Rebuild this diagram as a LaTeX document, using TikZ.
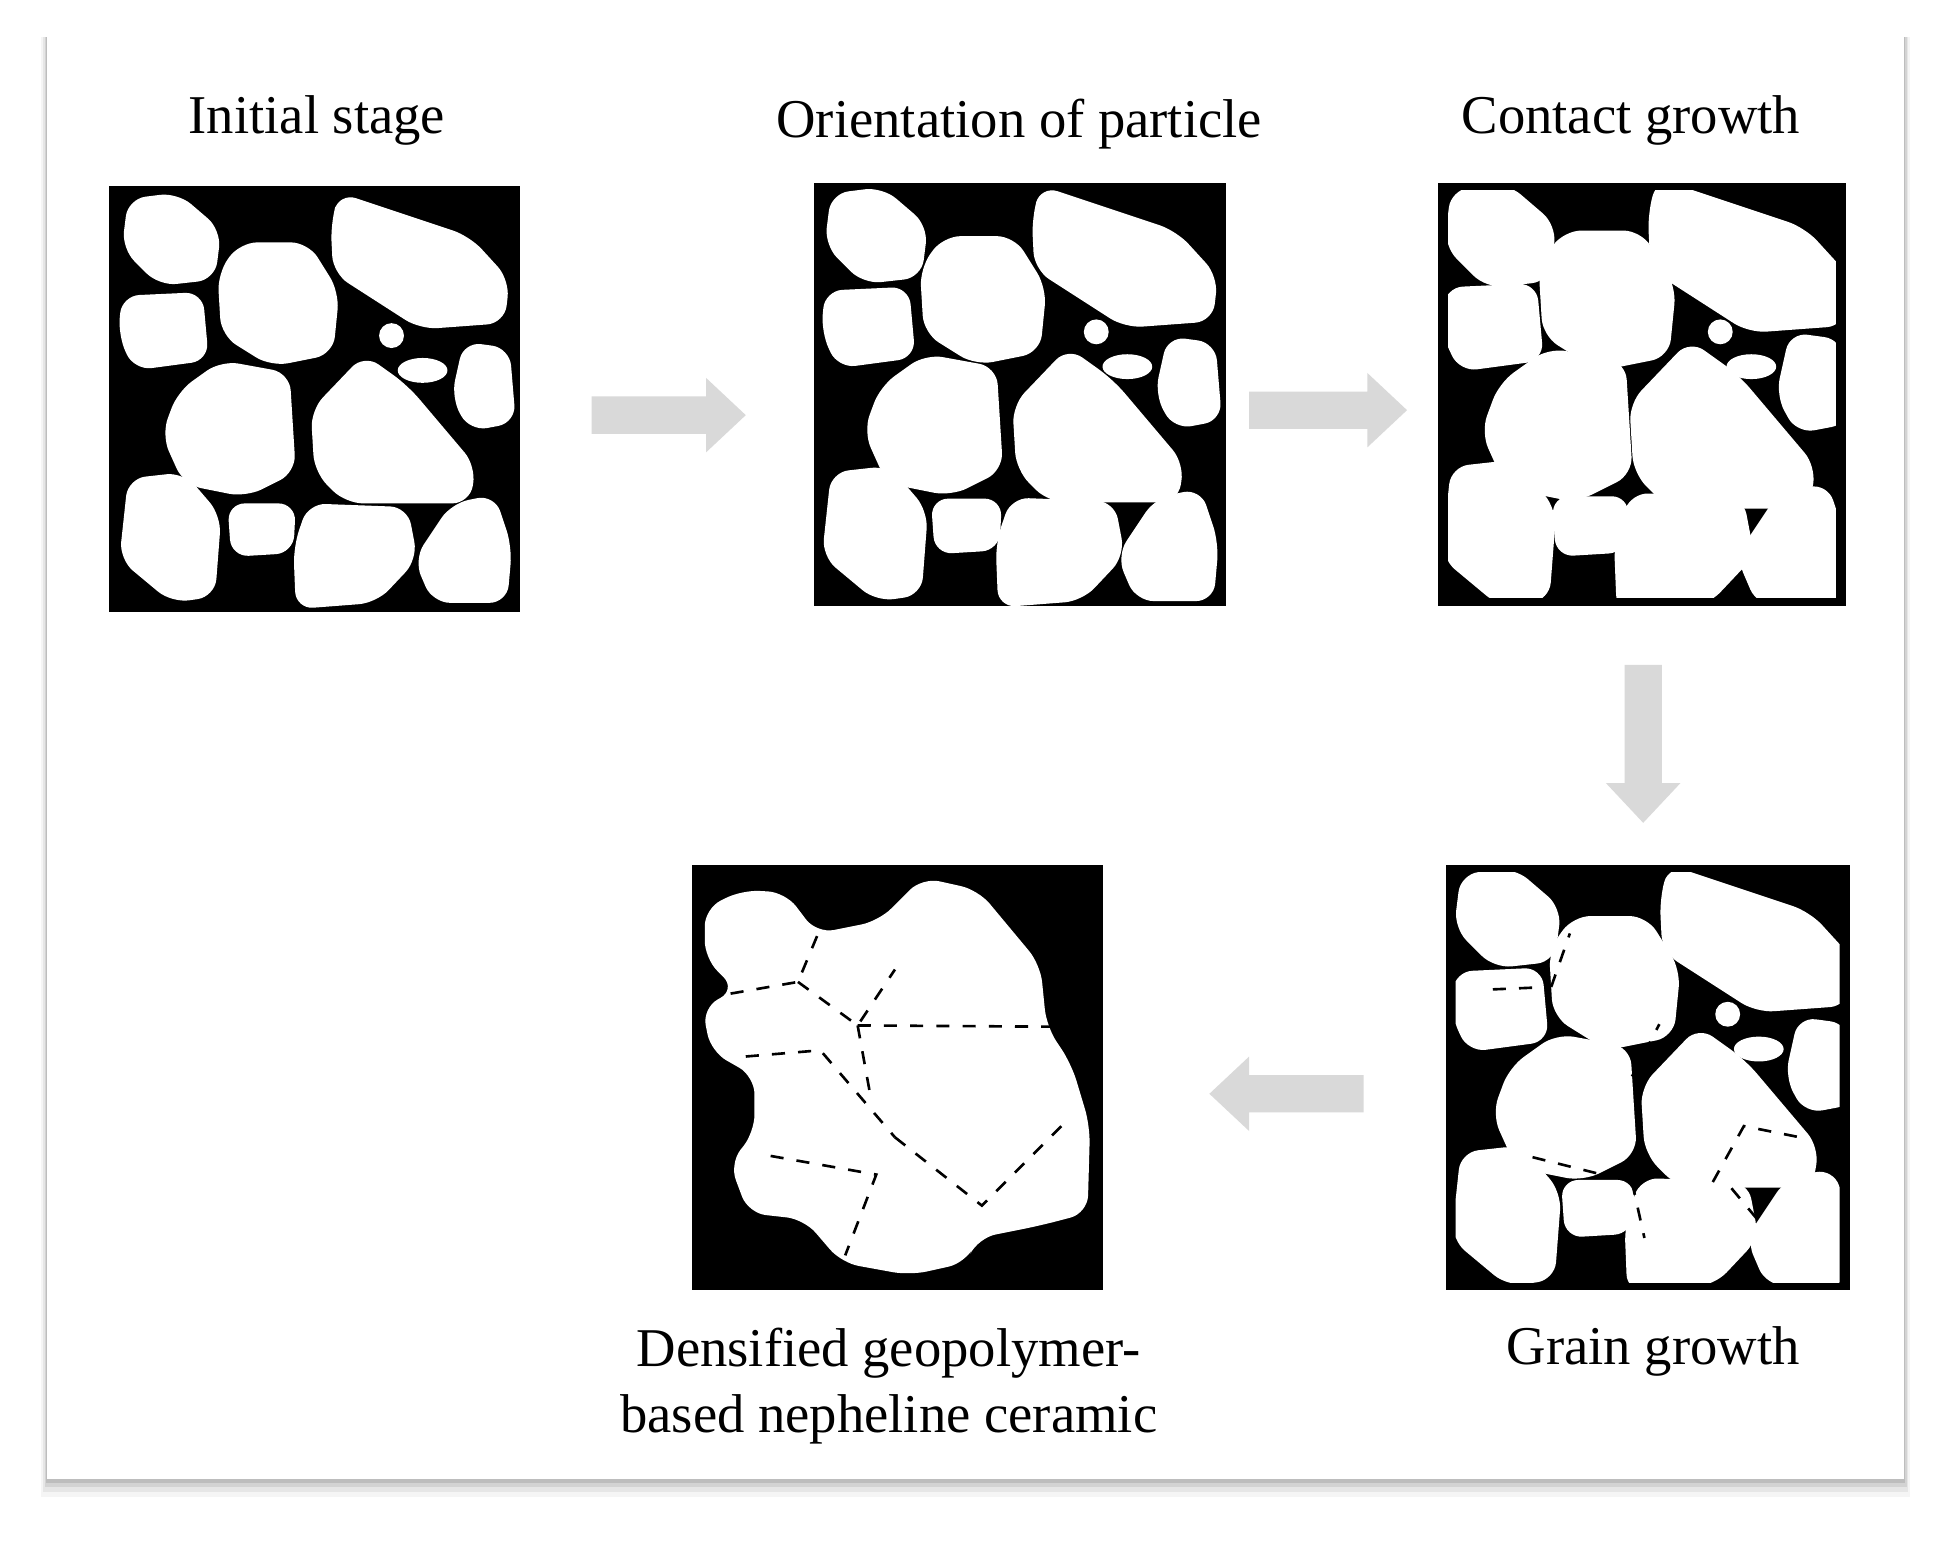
\documentclass[tikz,border=0pt]{standalone}
\usepackage{fontspec}
\setmainfont{Liberation Serif}
\begin{document}
\begin{tikzpicture}[x=0.01cm,y=-0.01cm,
  gr/.style={fill=white,rounded corners=4pt},
  panel/.style={fill=black,inner sep=0,outer sep=0,anchor=north west},
  bar/.style={fill=black!15},
  lab/.style={font=\fontsize{12.5}{15}\selectfont,align=center},
  dl/.style={dashed,line width=0.6pt}]
\useasboundingbox (0,0) rectangle (1560,1240);
\fill[white] (0,0) rectangle (1560,1240);
\foreach \i/\o in {14/0.04,10/0.06,6/0.08,3/0.1}{
  \fill[black,opacity=\o] (38-\i/3,30) rectangle (1532+\i/3,1190+\i);}
\fill[white] (38,30) rectangle (1532,1190);
\newcommand\mygrains[1]{%
 \fill[gr,scale around={#1:(50,42)}] (15,10)--(55,5)--(90,35)--(85,75)--(40,80)--(10,50)--cycle;
 \fill[gr,scale around={#1:(250,70)}] (185,5)--(290,40)--(322,75)--(318,110)--(250,115)--(180,70)--(178,30)--cycle;
 \fill[gr,scale around={#1:(135,95)}] (105,45)--(160,45)--(185,85)--(180,135)--(130,145)--(90,120)--(87,70)--cycle;
 \fill[gr,scale around={#1:(42,117)}] (10,88)--(75,85)--(80,140)--(20,148)--(7,120)--cycle;
 \fill[white] (227,120) circle (10);
 \fill[white] (252,148) ellipse (20 and 10);
 \fill[gr,scale around={#1:(100,195)}] (90,140)--(145,150)--(150,230)--(110,250)--(60,240)--(42,200)--(55,165)--cycle;
 \fill[gr,scale around={#1:(225,200)}] (205,135)--(240,160)--(295,225)--(290,255)--(190,255)--(165,230)--(162,180)--cycle;
 \fill[gr,scale around={#1:(300,160)}] (285,125)--(322,130)--(327,190)--(290,197)--(275,170)--cycle;
 \fill[gr,scale around={#1:(50,285)}] (15,235)--(60,230)--(90,265)--(85,330)--(50,335)--(8,300)--cycle;
 \fill[gr,scale around={#1:(122,276)}] (95,255)--(150,255)--(148,295)--(98,298)--cycle;
 \fill[gr,scale around={#1:(198,297)}] (160,255)--(240,258)--(248,300)--(215,335)--(150,340)--(148,290)--cycle;
 \fill[gr,scale around={#1:(285,295)}] (275,255)--(310,248)--(324,290)--(320,335)--(260,335)--(245,300)--cycle;}
% panels
\node[panel,minimum width=3.30cm,minimum height=3.42cm] (p1) at (88,150) {};
\begin{scope}[shift={(88,150)}]\mygrains{1}\end{scope}
\node[panel,minimum width=3.31cm,minimum height=3.40cm] (p2) at (655,147) {};
\begin{scope}[shift={(655,147)}]\mygrains{1.04}\end{scope}
\node[panel,minimum width=3.28cm,minimum height=3.40cm] (p3) at (1157,147) {};
\begin{scope}[shift={(1157,147)}]\clip (8,6) rectangle (320,334);\mygrains{1.13}\end{scope}
\node[panel,minimum width=3.25cm,minimum height=3.42cm] (p4) at (1163,696) {};
\begin{scope}[shift={(1163,696)}]\clip (8,6) rectangle (317,336);\mygrains{1.08}
 \draw[dl] (38,100)--(85,98); \draw[dl] (85,98)--(100,55);
 \draw[dl] (150,170)--(172,128); \draw[dl] (215,255)--(240,210)--(290,220);
 \draw[dl] (70,235)--(130,250); \draw[dl] (150,255)--(160,300);
 \draw[dl] (230,260)--(255,290);
\end{scope}
\node[panel,minimum width=3.30cm,minimum height=3.42cm] (p5) at (557,696) {};
\begin{scope}[shift={(557,696)}]
 \fill[gr] (10,35)--(40,20)--(75,22)--(100,55)--(150,45)--(185,10)--(230,20)--(280,80)--(285,130)--(305,160)--(320,210)--(318,280)--(280,290)--(230,300)--(220,320)--(175,330)--(120,320)--(90,285)--(45,280)--(30,240)--(50,215)--(50,170)--(15,150)--(8,115)--(35,100)--(10,75)--cycle;
\end{scope}
\draw[dl] (567,803)--(642,790)--(662,742);
\draw[dl] (642,790)--(690,825)--(720,780);
\draw[dl] (690,825)--(845,826);
\draw[dl] (600,850)--(660,845)--(720,915);
\draw[dl] (690,825)--(700,880);
\draw[dl] (620,930)--(705,945)--(680,1010);
\draw[dl] (720,915)--(790,970)--(855,905);
% arrows
\fill[bar] (476,319)--(568,319)--(568,304)--(600,334)--(568,364)--(568,349)--(476,349)--cycle;
\fill[bar] (1005,315)--(1100,315)--(1100,300)--(1132,330)--(1100,360)--(1100,345)--(1005,345)--cycle;
\fill[bar] (1307,535)--(1337,535)--(1337,630)--(1352,630)--(1322,662)--(1292,630)--(1307,630)--cycle;
\fill[bar] (1097,865)--(1005,865)--(1005,850)--(973,880)--(1005,910)--(1005,895)--(1097,895)--cycle;
% labels
\node[lab] (t1) at (255,97) {Initial stage};
\node[lab] (t2) at (820,100) {Orientation of particle};
\node[lab] (t3) at (1312,97) {Contact growth};
\node[lab] (t4) at (1330,1087) {Grain growth};
\node[lab] (t5) at (715,1115) {Densified geopolymer-\\based nepheline ceramic};
\end{tikzpicture}
\end{document}
